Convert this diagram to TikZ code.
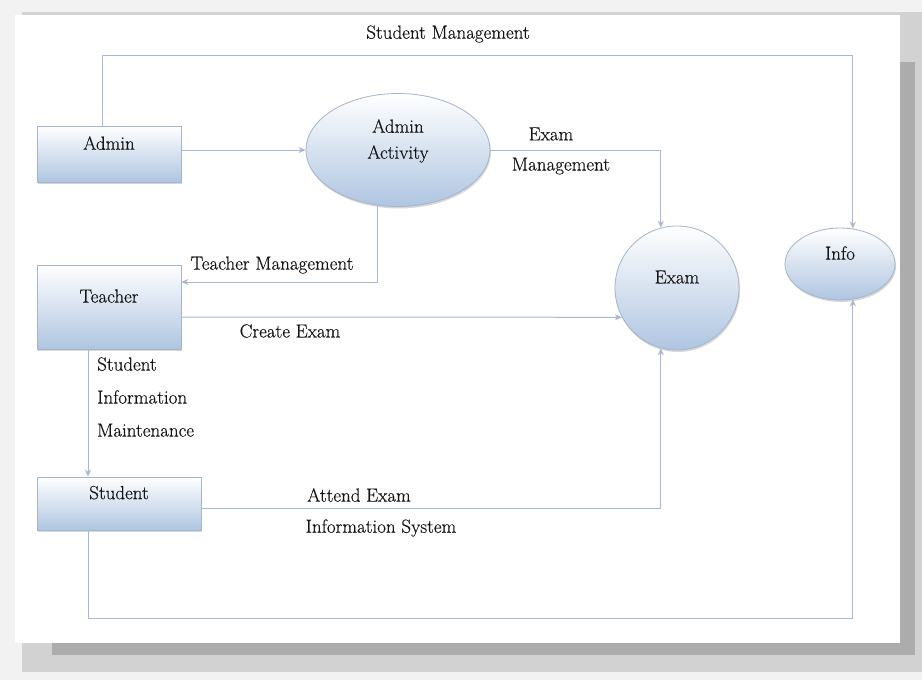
\documentclass[tikz,border=0pt]{standalone}
\usepackage{fontspec}
\newfontfamily\diagfont{Latin Modern Roman}[FakeBold=0.4]
\usepackage{tikz}
\usetikzlibrary{arrows.meta,shapes.geometric,shadows}

\definecolor{edgeblue}{HTML}{A3B4CB}
\definecolor{fillblue}{HTML}{AFC5E1}
\definecolor{flowblue}{HTML}{A6B9D2}
\definecolor{inkgray}{HTML}{141414}

\begin{document}
\begin{tikzpicture}
      [x=1pt,y=-1pt,>={Stealth[length=7pt,width=6pt]},
      entity/.style={draw=edgeblue,line width=.8pt,top color=white,bottom color=fillblue,
        text=inkgray,font=\diagfont\fontsize{19}{26}\selectfont,text depth=22pt,inner sep=0pt,
        drop shadow={opacity=.3,shadow xshift=1pt,shadow yshift=-2pt}},
      process/.style={entity,rectangle},
      flow/.style={->,draw=flowblue,line width=1pt},
      lbl/.style={text=inkgray,font=\diagfont\fontsize{19}{26}\selectfont,inner sep=0pt}]
      \useasboundingbox (0,0) rectangle (922,680) ;
      \fill[gray!10] (0,0) rectangle (922,680) ;
      \fill[gray!35] (22,12) rectangle (922,672) ;
      \fill[gray!65] (52,62) rectangle (915,655) ;
      \fill[white] (15,15) rectangle (900,643) ;
      \node[process,minimum width=144pt,minimum height=56pt] (admin) at (109,154) {Admin} ;
      \node[process,minimum width=144pt,minimum height=84pt] (teacher) at (109,307) {Teacher} ;
      \node[process,minimum width=164pt,minimum height=53pt] (student) at (119,503.5) {Student} ;
      \node[entity,ellipse,align=center,minimum width=184pt,minimum height=113pt] (activity) at (398,150) {Admin\\Activity} ;
      \node[entity,circle,minimum size=124pt] (exam) at (677,288) {Exam} ;
      \node[entity,ellipse,minimum width=110pt,minimum height=72pt] (info) at (840,264) {Info} ;
      \node[lbl] (studmgmt) at (448,34) {Student Management} ;
      \node[lbl] (exammgmt1) at (551,134) {Exam} ;
      \node[lbl] (exammgmt2) at (561,166) {Management} ;
      \node[lbl] (teachmgmt) at (272,265) {Teacher Management} ;
      \node[lbl] (create) at (290,331) {Create Exam} ;
      \node[lbl,anchor=west,align=left,font=\diagfont\fontsize{19}{33}\selectfont] (maint) at (97,397) {Student\\Information\\Maintenance} ;
      \node[lbl] (attend) at (359,495) {Attend Exam} ;
      \node[lbl] (infosys) at (381,528) {Information System} ;
      \draw[flow] ([xshift=-7pt]admin.north) -- ++(0,-70) -| (info.70) ;
      \draw[flow] (admin.east |- activity.west) to (activity.west) ;
      \draw[flow] (activity.east) -| (exam.105) ;
      \draw[flow] (activity.250) |- ([yshift=25pt]teacher.east) ;
      \draw[flow] ([yshift=-10pt]teacher.east) to (exam.208) ;
      \draw[flow] ([xshift=-21pt]teacher.south) to ([xshift=-31pt]student.north) ;
      \draw[flow] ([yshift=-5pt]student.east) -| (exam.255) ;
      \draw[flow] ([xshift=-31pt]student.south) -- ++(0,88) -| (info.-70) ;
    \end{tikzpicture}
\end{document}
